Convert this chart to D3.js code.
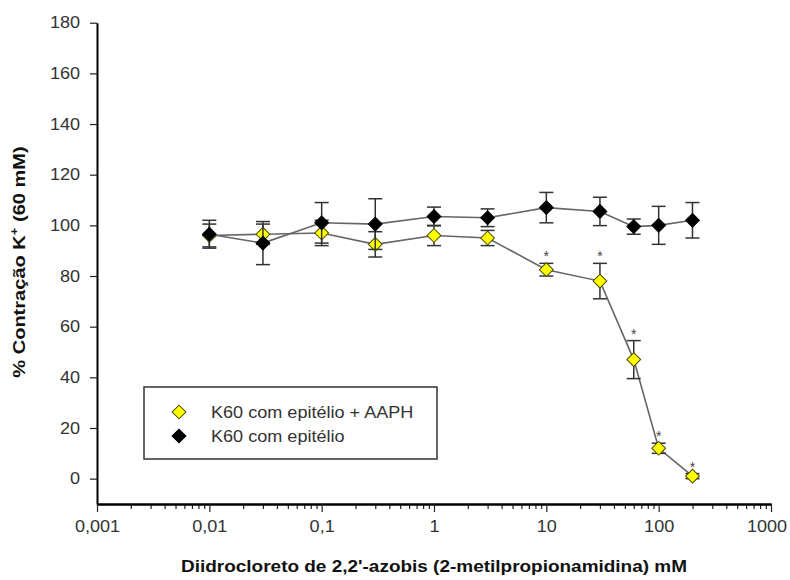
<!DOCTYPE html>
<html>
<head>
<meta charset="utf-8">
<script src="https://cdn.jsdelivr.net/npm/d3@7"></script>
<style>
    body { margin: 0; background: #fff; }
    svg text { font-family: Arial, "Liberation Sans", sans-serif; }
</style>
</head>
<body>
<div class="d3-canvas"></div>
<script>
// Data
const concentrations = [0.01, 0.03, 0.1, 0.3, 1, 3, 10, 30, 60, 100, 200];
const aaphMean = [96, 96.5, 97, 92.5, 96, 95, 82.5, 78, 47, 12, 1];
const aaphErr = [4.5, 4, 5, 5, 4, 3, 2.5, 7, 7.5, 2, 1];
const aaphSignificant = [false, false, false, false, false, false, true, true, true, true, true];
const ctrlMean = [96.5, 93, 101, 100.5, 103.5, 103, 107, 105.5, 99.5, 100, 102];
const ctrlErr = [5.5, 8.5, 8, 10, 3.7, 3.5, 6, 5.6, 3, 7.5, 7];
const seriesNames = ["K60 com epitélio + AAPH", "K60 com epitélio"];
const yTickValues = [0, 20, 40, 60, 80, 100, 120, 140, 160, 180];
const xTickValues = [0.001, 0.01, 0.1, 1, 10, 100, 1000];
const xTickLabels = ["0,001", "0,01", "0,1", "1", "10", "100", "1000"];
const xTitle = "Diidrocloreto de 2,2'-azobis (2-metilpropionamidina) mM";

// Constants
const WIDTH = 790;
const HEIGHT = 580;
const LEFT = 97;
const RIGHT = 771;
const TOP = 22.7;
const BOTTOM = 504;
const STRETCH = 1.13; // the original text is a bit wide

const svg = d3.select('.d3-canvas')
    .append('svg')
        .attr('width', WIDTH)
        .attr('height', HEIGHT);

const x = d3.scaleLog().domain([0.001, 1000]).range([LEFT, RIGHT]);
const y = d3.scaleLinear().domain([-10, 180]).range([BOTTOM, TOP]);

// Axes
const yAxis = d3.axisLeft(y)
    .tickValues(yTickValues)
    .tickSize(7)
    .tickSizeOuter(0)
    .tickPadding(8);
const gy = svg.append('g')
    .attr('transform', `translate(${LEFT},0)`)
    .call(yAxis);

// minor ticks on the log axis
const minorTicks = [];
for (let d = 0.001; d < 1000; d *= 10) {
    for (let k = 2; k <= 9; k++) minorTicks.push(+(d * k).toPrecision(3));
}
const gxMinor = svg.append('g')
    .attr('transform', `translate(0,${BOTTOM})`)
    .call(d3.axisBottom(x).tickValues(minorTicks).tickSize(5).tickSizeOuter(0).tickFormat(''));

const xAxis = d3.axisBottom(x)
    .tickValues(xTickValues)
    .tickSize(8)
    .tickSizeOuter(0)
    .tickPadding(9)
    .tickFormat((d, i) => xTickLabels[i]);
const gx = svg.append('g')
    .attr('transform', `translate(0,${BOTTOM})`)
    .call(xAxis);

[gy, gx, gxMinor].forEach(g => {
    g.select('.domain').attr('stroke', '#000').attr('stroke-width', 2);
    g.selectAll('.tick line').attr('stroke', '#222').attr('stroke-width', 1.2);
    g.selectAll('.tick text')
        .attr('fill', '#333')
        .style('font-size', '16px')
        .attr('transform', `scale(${STRETCH},1)`);
});
// last label sits against the right edge, nudge it in like the original
gx.selectAll('.tick text').filter((d, i) => i === xTickValues.length - 1).attr('dx', -4);

// Axis titles
svg.append('text')
    .attr('transform', `translate(${(LEFT + RIGHT) / 2},572) scale(1.15,1)`)
    .attr('text-anchor', 'middle')
    .attr('fill', '#111')
    .style('font-size', '16.5px')
    .style('font-weight', 'bold')
    .text(xTitle);

const yTitle = svg.append('text')
    .attr('transform', `translate(25,262) rotate(-90) scale(1.18,1)`)
    .attr('text-anchor', 'middle')
    .attr('fill', '#111')
    .style('font-size', '17px')
    .style('font-weight', 'bold');
yTitle.append('tspan').text('% Contração K');
yTitle.append('tspan').attr('dy', -7).style('font-size', '11px').text('+');
yTitle.append('tspan').attr('dy', 7).text(' (60 mM)');

// Series
const diamond = d3.symbol().type(d3.symbolSquare).size(95);
const line = d3.line().x(d => x(d.c)).y(d => y(d.v));

const series = [
    {
        name: seriesNames[0], fill: '#ffff00', stroke: '#4a4a00',
        points: concentrations.map((c, i) => ({ c, v: aaphMean[i], e: aaphErr[i], sig: aaphSignificant[i] }))
    },
    {
        name: seriesNames[1], fill: '#000', stroke: '#000',
        points: concentrations.map((c, i) => ({ c, v: ctrlMean[i], e: ctrlErr[i], sig: false }))
    }
];

series.forEach(s => {
    const g = svg.append('g');

    g.append('path')
        .datum(s.points)
        .attr('d', line)
        .attr('fill', 'none')
        .attr('stroke', '#666')
        .attr('stroke-width', 1.6);

    // error bars
    const eb = g.selectAll('.err')
        .data(s.points)
        .join('g')
            .attr('class', 'err')
            .attr('stroke', '#333')
            .attr('stroke-width', 1.5);
    eb.append('line')
        .attr('x1', d => x(d.c)).attr('x2', d => x(d.c))
        .attr('y1', d => y(d.v - d.e)).attr('y2', d => y(d.v + d.e));
    eb.append('line')
        .attr('x1', d => x(d.c) - 7).attr('x2', d => x(d.c) + 7)
        .attr('y1', d => y(d.v + d.e)).attr('y2', d => y(d.v + d.e));
    eb.append('line')
        .attr('x1', d => x(d.c) - 7).attr('x2', d => x(d.c) + 7)
        .attr('y1', d => y(d.v - d.e)).attr('y2', d => y(d.v - d.e));

    // markers
    g.selectAll('.marker')
        .data(s.points)
        .join('path')
            .attr('class', 'marker')
            .attr('d', diamond)
            .attr('transform', d => `translate(${x(d.c)},${y(d.v)}) rotate(45)`)
            .attr('fill', s.fill)
            .attr('stroke', s.stroke)
            .attr('stroke-width', 1);

    // significance asterisks
    g.selectAll('.sig')
        .data(s.points.filter(d => d.sig))
        .join('text')
            .attr('class', 'sig')
            .attr('x', d => x(d.c))
            .attr('y', d => y(d.v + d.e) - 2)
            .attr('text-anchor', 'middle')
            .attr('fill', '#444')
            .style('font-size', '14px')
            .text('*');
});

// Legend
const legend = svg.append('g');
legend.append('rect')
    .attr('x', 144).attr('y', 387)
    .attr('width', 293).attr('height', 72)
    .attr('fill', '#fff')
    .attr('stroke', '#333')
    .attr('stroke-width', 1.5);

series.forEach((s, i) => {
    legend.append('path')
        .attr('d', diamond)
        .attr('transform', `translate(179,${412 + i * 24}) rotate(45)`)
        .attr('fill', s.fill)
        .attr('stroke', s.stroke)
        .attr('stroke-width', 1);
    legend.append('text')
        .attr('transform', `translate(211,${418 + i * 24}) scale(${STRETCH},1)`)
        .attr('fill', '#333')
        .style('font-size', '16px')
        .text(s.name);
});
</script>
</body>
</html>
